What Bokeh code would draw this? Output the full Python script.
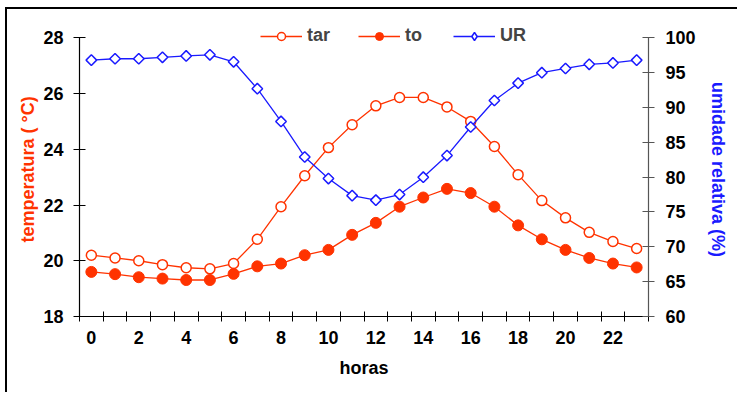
import math
from bokeh.plotting import figure
from bokeh.models import Range1d, LinearAxis, FixedTicker, Legend, LegendItem
from bokeh.embed import file_html
from bokeh.resources import INLINE

# ---- data ----
horas = list(range(24))
tar = [20.2, 20.1, 20.0, 19.86, 19.75, 19.71, 19.9, 20.77, 21.94, 23.05, 24.06, 24.88,
       25.56, 25.86, 25.86, 25.52, 25.0, 24.1, 23.09, 22.16, 21.54, 21.02, 20.69, 20.44]
to = [19.6, 19.52, 19.41, 19.36, 19.31, 19.31, 19.53, 19.8, 19.9, 20.2, 20.39, 20.93,
      21.36, 21.94, 22.27, 22.58, 22.43, 21.94, 21.27, 20.77, 20.39, 20.1, 19.9, 19.76]
ur = [96.8, 97.0, 97.0, 97.2, 97.4, 97.56, 96.56, 92.7, 88.0, 82.9, 79.8, 77.35,
      76.7, 77.5, 80.0, 83.1, 87.2, 91.0, 93.5, 95.0, 95.6, 96.2, 96.4, 96.8]

x_tick_labels = [0, 2, 4, 6, 8, 10, 12, 14, 16, 18, 20, 22]
x_boundaries = [h - 0.5 for h in range(25)]
temp_ticks = [18, 20, 22, 24, 26, 28]
ur_ticks = [60, 65, 70, 75, 80, 85, 90, 95, 100]

RED = "#FF3300"
BLUE = "#1A1AFF"
FONT = "Liberation Sans"

# head-room above the top tick so the legend (which sits across the top tick line) is not clipped
TOP_PAD = 0.055
t0, t1 = temp_ticks[0], temp_ticks[-1]
u0, u1 = ur_ticks[0], ur_ticks[-1]

p = figure(width=732, height=385, output_backend="svg", toolbar_location=None,
           x_range=Range1d(-0.5, 23.5),
           y_range=Range1d(t0, t1 + (t1 - t0) * TOP_PAD),
           min_border_left=72, min_border_right=91, min_border_top=13, min_border_bottom=78,
           background_fill_color="white", border_fill_color=None)
p.styles = {"margin-left": "5px", "margin-top": "7px",
            "border-left": "2px solid black", "border-top": "2px solid black"}
p.outline_line_color = None
p.xgrid.visible = False
p.ygrid.visible = False
p.extra_y_ranges = {"ur": Range1d(u0, u1 + (u1 - u0) * TOP_PAD)}

# x axis
xa = p.xaxis[0]
xa.ticker = FixedTicker(ticks=x_tick_labels, minor_ticks=x_boundaries)
xa.major_tick_line_color = None
xa.minor_tick_in = 5
xa.minor_tick_out = 5
xa.minor_tick_line_color = "black"
xa.axis_label = "horas"
xa.axis_label_text_color = "black"

# left axis
ya = p.yaxis[0]
ya.ticker = FixedTicker(ticks=temp_ticks)
ya.bounds = (t0, t1)
ya.minor_tick_line_color = None
ya.major_tick_in = 6
ya.major_tick_out = 6
ya.axis_label = "temperatura ( °C)"
ya.axis_label_text_color = RED

# right axis
ra = LinearAxis(y_range_name="ur", ticker=FixedTicker(ticks=ur_ticks),
                axis_label="umidade relativa (%)", bounds=(u0, u1))
ra.minor_tick_line_color = None
ra.major_tick_in = 6
ra.major_tick_out = 6
ra.axis_line_color = "#555555"
ra.major_tick_line_color = "#555555"
ra.axis_label_text_color = BLUE
p.add_layout(ra, "right")

for ax in (xa, ya, ra):
    ax.major_label_text_font = FONT
    ax.major_label_text_font_style = "bold"
    ax.major_label_text_font_size = "18px"
    ax.major_label_text_color = "black"
    ax.axis_label_text_font = FONT
    ax.axis_label_text_font_style = "bold"
    ax.axis_label_text_font_size = "18px"
    ax.axis_line_width = 1.2

xa.major_label_standoff = 8
xa.axis_label_standoff = 11
ya.major_label_standoff = 10
ya.axis_label_standoff = 2
ra.major_label_standoff = 11
ra.axis_label_standoff = 9

# series
l_tar = p.line(horas, tar, color=RED, line_width=1.3)
s_tar = p.scatter(horas, tar, marker="circle", size=10, line_color=RED,
                  fill_color="white", line_width=1.5)
l_to = p.line(horas, to, color=RED, line_width=1.3)
s_to = p.scatter(horas, to, marker="circle", size=11, line_color=RED, fill_color=RED)
l_ur = p.line(horas, ur, color=BLUE, line_width=1.3, y_range_name="ur")
s_ur = p.scatter(horas, ur, marker="square", size=7.5, angle=math.pi / 4,
                 line_color=BLUE, fill_color="white", line_width=1.5, y_range_name="ur")
# legend swatch for UR (legend glyphs ignore marker angle, so a hidden diamond renderer
# supplies the legend symbol)
k_ur = p.scatter(horas, ur, marker="diamond", line_color=BLUE, fill_color="white",
                 line_width=1.5, y_range_name="ur", visible=False)

legend = Legend(items=[LegendItem(label="tar", renderers=[l_tar, s_tar]),
                       LegendItem(label="to", renderers=[l_to, s_to]),
                       LegendItem(label="UR", renderers=[l_ur, k_ur])],
                orientation="horizontal", location=(181, 270))
legend.label_text_font = FONT
legend.label_text_font_style = "bold"
legend.label_text_font_size = "18px"
legend.glyph_width = 42
legend.glyph_height = 20
legend.spacing = 28
legend.padding = 0
legend.margin = 0
legend.label_standoff = 5
legend.background_fill_alpha = 0
legend.border_line_color = None
legend.inactive_fill_alpha = 0
p.add_layout(legend, "center")

open("out.html", "w").write(file_html(p, INLINE))
